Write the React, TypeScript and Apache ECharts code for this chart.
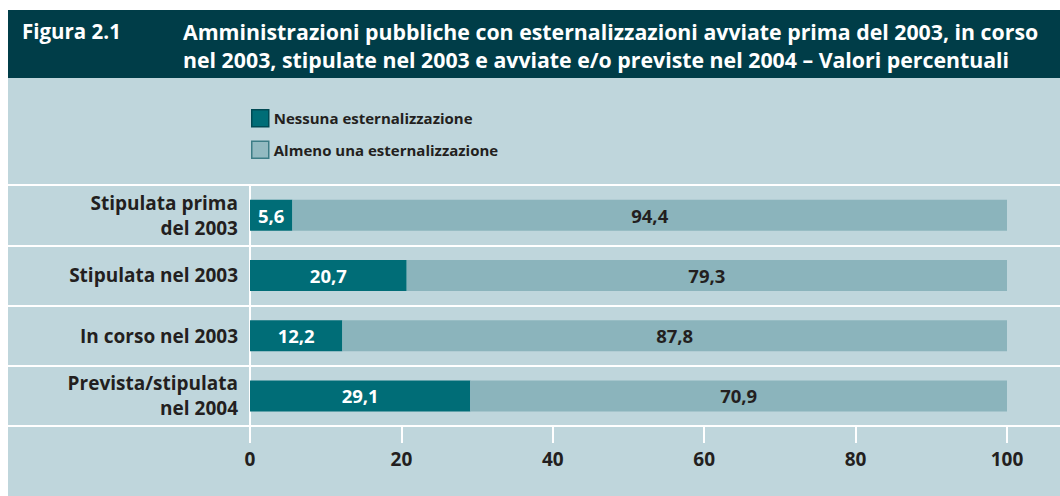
import React, { useEffect, useRef } from "react";
import * as echarts from "echarts";

const categories = [
  "Stipulata prima\ndel 2003",
  "Stipulata nel 2003",
  "In corso nel 2003",
  "Prevista/stipulata\nnel 2004",
];
const nessuna = [5.6, 20.7, 12.2, 29.1];
const almeno = [94.4, 79.3, 87.8, 70.9];
const seriesNames = ["Nessuna esternalizzazione", "Almeno una esternalizzazione"];
const xTicks = [0, 20, 40, 60, 80, 100];

const FONT = "'Open Sans', sans-serif";
const TEXT = "#231f20";
const DARK = "#006d77";
const LIGHT = "#8bb4bc";
const BG = "#bfd6dc";
const HEADER = "#003d48";

export default function App() {
  const ref = useRef<HTMLDivElement>(null);
  useEffect(() => {
    document.body.style.margin = "0";
    const chart = echarts.init(ref.current!, null, { renderer: "svg" });
    const fmt = (p: any) => String(p.value).replace(".", ",");
    chart.setOption({
      animation: false,
      textStyle: { fontFamily: FONT },
      graphic: [
        { type: "rect", z: -10, shape: { x: 8, y: 78, width: 1052, height: 418 }, style: { fill: BG } },
        { type: "rect", z: -10, shape: { x: 8, y: 10, width: 1052, height: 68 }, style: { fill: HEADER } },
        {
          type: "text", left: 22, top: 17,
          style: { text: "Figura 2.1", fill: "#fff", font: `bold 20.5px ${FONT}`, lineHeight: 28 },
        },
        {
          type: "text", left: 183, top: 17,
          style: {
            text: "Amministrazioni pubbliche con esternalizzazioni avviate prima del 2003, in corso\nnel 2003, stipulate nel 2003 e avviate e/o previste nel 2004 \u2013 Valori percentuali",
            fill: "#fff", font: `bold 21.3px ${FONT}`, lineHeight: 28,
          },
        },
      ],
      legend: {
        orient: "vertical",
        left: 246,
        top: 104,
        itemWidth: 17,
        itemHeight: 17,
        itemGap: 13,
        icon: "rect",
        textStyle: { color: TEXT, fontWeight: "bold", fontSize: 15, fontFamily: FONT },
        data: [
          { name: seriesNames[0], itemStyle: { color: DARK, borderColor: "#004a54", borderWidth: 1.5 } },
          { name: seriesNames[1], itemStyle: { color: "#93bac1", borderColor: "#3d7d86", borderWidth: 1.5 } },
        ],
      },
      grid: [
        { left: 250, right: 53, top: 185, bottom: 70 },
        { left: 8, right: 0, top: 185, bottom: 70 },
      ],
      xAxis: [
        {
          gridIndex: 0,
          type: "value",
          min: 0,
          max: 100,
          interval: 20,
          axisLine: { show: false },
          axisTick: { show: true, length: 17, lineStyle: { color: "#ffffff", width: 2 } },
          splitLine: { show: false },
          axisLabel: {
            color: TEXT, fontWeight: "bold", fontSize: 19, margin: 23, fontFamily: FONT,
            formatter: (v: number) => (xTicks.includes(v) ? String(v) : ""),
          },
        },
        {
          gridIndex: 1, type: "value", show: false, min: 0, max: 1,
          splitLine: { show: false },
        },
      ],
      yAxis: [
        {
          gridIndex: 0,
          type: "category",
          inverse: true,
          data: categories,
          axisLine: { show: true, lineStyle: { color: "#ffffff", width: 2 } },
          axisTick: { show: false },
          splitLine: { show: false },
          axisLabel: {
            color: TEXT, fontWeight: "bold", fontSize: 19, lineHeight: 25, margin: 12, fontFamily: FONT,
          },
        },
        {
          gridIndex: 1,
          type: "category",
          inverse: true,
          data: categories,
          axisLine: { show: false },
          axisTick: { show: false },
          axisLabel: { show: false },
          splitLine: { show: true, lineStyle: { color: "#ffffff", width: 2 } },
        },
      ],
      series: [
        {
          name: seriesNames[0],
          type: "bar",
          stack: "t",
          data: nessuna,
          barWidth: 31,
          itemStyle: { color: DARK },
          label: {
            show: true, position: "inside", color: "#ffffff", fontWeight: "bold", fontSize: 18.5,
            fontFamily: FONT, formatter: fmt,
          },
        },
        {
          name: seriesNames[1],
          type: "bar",
          stack: "t",
          data: almeno,
          barWidth: 31,
          itemStyle: { color: LIGHT },
          label: {
            show: true, position: "inside", color: TEXT, fontWeight: "bold", fontSize: 18.5,
            fontFamily: FONT, formatter: fmt,
          },
        },
      ],
    });
    return () => chart.dispose();
  }, []);
  return <div ref={ref} style={{ width: 1060, height: 496 }} />;
}
